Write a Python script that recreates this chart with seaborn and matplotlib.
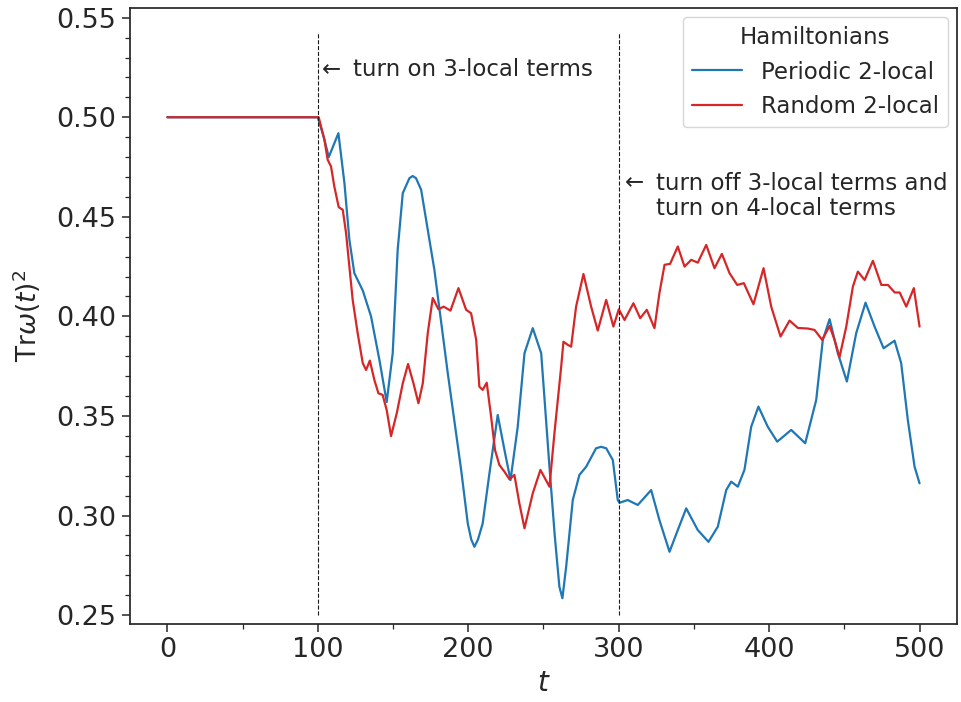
import pandas as pd
import matplotlib
matplotlib.use("Agg")
import matplotlib.pyplot as plt
import seaborn as sns
from matplotlib.ticker import MultipleLocator

sns.set_theme(style="ticks")
plt.rcParams['font.family'] = ['DejaVu Sans']

# valores
periodic_t = [0, 100, 104, 107.3, 110.5, 113.7, 117.7, 121, 124.3, 129.9, 135.4, 141, 145.8, 149.8,
              153.1, 156.5, 160.9, 163.1, 165.3, 168.7, 173.1, 177.5, 186.4, 195.3, 199.7, 202,
              204.1, 206.5, 209.6, 214.1, 219.6, 224.1, 228.1, 232.9, 237.4, 242.9, 248.5, 254,
              257.5, 260.6, 262.6, 265.1, 269.5, 273.9, 278.4, 285, 288.3, 291.7, 296.1, 299.4,
              300.5, 306, 312.7, 321.6, 327.1, 333.8, 339.3, 344.9, 352.6, 359.7, 365.9, 371.5,
              374.8, 379.2, 383.6, 388.1, 392.9, 399.1, 405.4, 414.7, 424, 431.3, 435.7, 440.2,
              445.7, 451.7, 457.9, 464.1, 470.1, 476.1, 483.4, 487.8, 492.2, 496.7, 500]
periodic_v = [0.5, 0.5, 0.490, 0.480, 0.486, 0.492, 0.467, 0.4385, 0.4217, 0.413, 0.400, 0.378,
              0.357, 0.3815, 0.4334, 0.4619, 0.4694, 0.4705, 0.4694, 0.4636, 0.4435, 0.4234,
              0.3715, 0.3229, 0.296, 0.288, 0.2843, 0.288, 0.296, 0.3212, 0.3505, 0.3329,
              0.3178, 0.3446, 0.3815, 0.3941, 0.3815, 0.3245, 0.290, 0.2642, 0.2585, 0.2743,
              0.3078, 0.3204, 0.3245, 0.3338, 0.3345, 0.3338, 0.3279, 0.3078, 0.3064, 0.3078,
              0.3053, 0.3128, 0.2977, 0.2818, 0.2927, 0.3036, 0.2927, 0.2868, 0.2944, 0.3128,
              0.317, 0.3145, 0.3229, 0.3446, 0.3547, 0.3446, 0.3371, 0.3430, 0.3363, 0.358,
              0.3882, 0.3986, 0.3815, 0.3673, 0.3916, 0.4069, 0.3949, 0.3840, 0.3878, 0.3765,
              0.348, 0.3245, 0.3162]

random_t = [0, 100.6, 104.4, 106.6, 108.8, 111, 113.9, 116.6, 118.8, 121, 123.2, 126.5, 129.9,
            132.1, 134.6, 137.6, 140.3, 143.1, 145.8, 148.7, 152.5, 156.5, 160, 163.6, 166.9,
            169.8, 173.1, 176.4, 180.2, 183.7, 188.2, 193.5, 198.6, 201.9, 205.3, 207.4, 209.6,
            212.3, 215.2, 217.8, 220.7, 224.1, 227.4, 230.7, 234, 237.4, 242.9, 248, 254, 257.3,
            261.8, 263.3, 266.2, 268.4, 271.7, 276.6, 281.7, 286.1, 291.7, 296.5, 300.1, 303.9,
            309.8, 314.3, 318.7, 323.8, 327.1, 330.5, 334.2, 339.3, 343.8, 348.2, 352.6, 358.2,
            363.7, 368.6, 373.7, 378.8, 383.2, 389.6, 396.3, 401.4, 407.6, 413.6, 419.1, 425.7,
            430.2, 435.3, 440.2, 443.5, 446.8, 451.3, 455.7, 459, 463.5, 469, 474.6, 479, 483.5,
            486.8, 491.2, 496.2, 500]
random_v = [0.5, 0.5, 0.4887, 0.4786, 0.4753, 0.4652, 0.4549, 0.4535, 0.4418, 0.425, 0.4083,
            0.3916, 0.3765, 0.3731, 0.3778, 0.3681, 0.3614, 0.3606, 0.353, 0.3399, 0.3514,
            0.3664, 0.3761, 0.3664, 0.3564, 0.3664, 0.3916, 0.4092, 0.4036, 0.4049, 0.4029,
            0.4142, 0.4033, 0.4016, 0.3882, 0.3647, 0.3631, 0.3667, 0.3497, 0.3329, 0.3254,
            0.322, 0.3182, 0.3204, 0.3061, 0.2936, 0.3112, 0.3229, 0.3145, 0.3413, 0.3748,
            0.3873, 0.3857, 0.3848, 0.4049, 0.4213, 0.4049, 0.3929, 0.4083, 0.3949, 0.4036,
            0.3982, 0.4066, 0.3991, 0.4033, 0.3941, 0.4117, 0.4259, 0.4264, 0.4351, 0.425,
            0.4284, 0.427, 0.4359, 0.4242, 0.4314, 0.4217, 0.4158, 0.4167, 0.4061, 0.4242,
            0.4049, 0.3899, 0.3979, 0.3942, 0.3939, 0.3932, 0.3882, 0.3952, 0.3882, 0.3795,
            0.3949, 0.415, 0.4225, 0.4183, 0.4279, 0.4158, 0.4158, 0.412, 0.412, 0.4049,
            0.4142, 0.3949]

series_names = ['Periodic 2-local', 'Random 2-local']
colores = ['#1f77b4', '#d62728']
switch_times = [100, 300]

df = pd.concat([
    pd.DataFrame({'t': periodic_t, 'purity': periodic_v, 'Hamiltonians': series_names[0]}),
    pd.DataFrame({'t': random_t, 'purity': random_v, 'Hamiltonians': series_names[1]}),
])

fig = plt.figure(figsize=(9.61, 7.02), dpi=100)
ax = fig.add_axes([0.135, 0.111, 0.861, 0.878])

sns.lineplot(data=df, x='t', y='purity', hue='Hamiltonians',
             palette=dict(zip(series_names, colores)), linewidth=1.6, ax=ax)

# lineas verticales donde se cambian los terminos
ax.vlines(switch_times, 0.25, 0.5425, colors='k', linestyles='--', linewidth=0.8)

ax.text(103, 0.5239, '\u2190', fontsize=16.5, va='center', color='.15')
ax.text(123.5, 0.5239, 'turn on 3-local terms', fontsize=16.5, va='center', color='.15')
ax.text(304, 0.467, '\u2190', fontsize=16.5, va='center', color='.15')
ax.text(324.5, 0.4605, 'turn off 3-local terms and\nturn on 4-local terms', fontsize=16.5,
        va='center', color='.15', linespacing=1.1)

ax.set_xlim(-25, 525)
ax.set_ylim(0.2455, 0.555)
ax.xaxis.set_major_locator(MultipleLocator(100))
ax.xaxis.set_minor_locator(MultipleLocator(50))
ax.yaxis.set_major_locator(MultipleLocator(0.05))
ax.yaxis.set_minor_locator(MultipleLocator(0.01))
ax.tick_params(axis='both', which='major', labelsize=19.5, length=6, width=1.1)
ax.tick_params(axis='both', which='minor', length=3.5, width=0.9)

ax.set_xlabel('$t$', fontsize=20)
ax.set_ylabel(r'$\mathrm{Tr}\omega(t)^2$', fontsize=19, labelpad=10)

leg = ax.legend(title='Hamiltonians', loc='upper right', fontsize=16.5, title_fontsize=16.5,
                handlelength=2.2, borderaxespad=0.4)

fig.savefig('out.png', dpi=100)
